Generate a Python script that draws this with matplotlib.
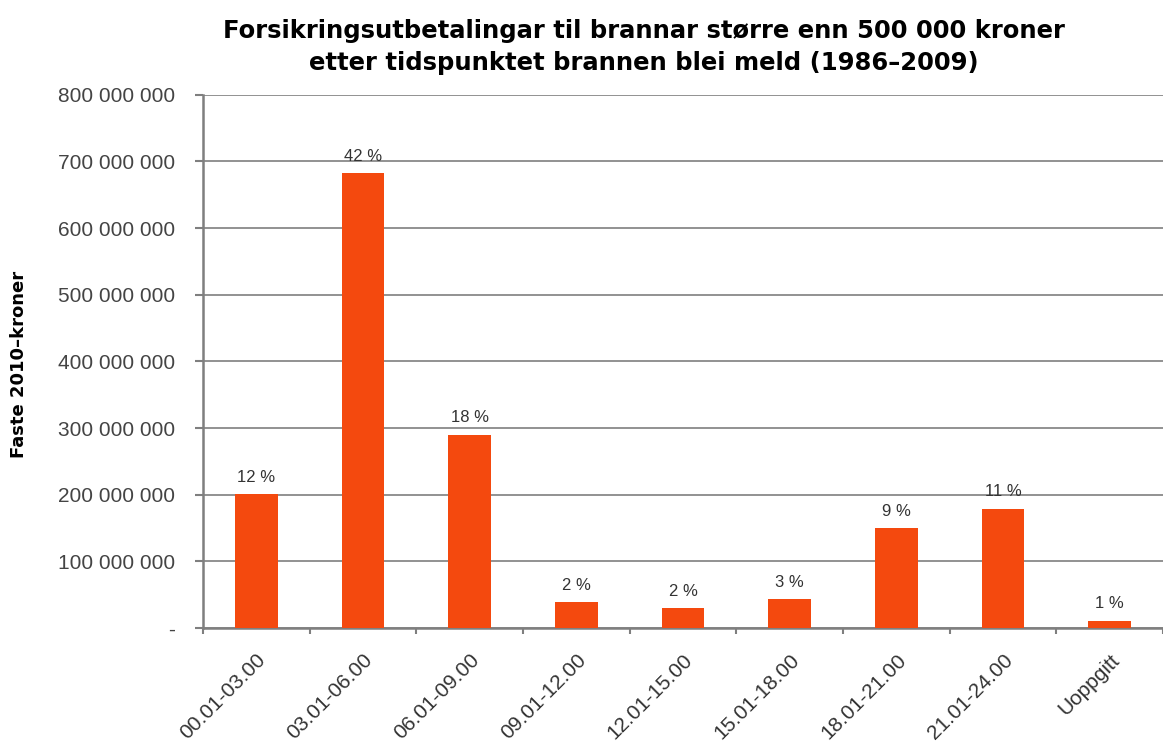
import matplotlib
matplotlib.use('Agg')
import matplotlib.pyplot as plt
import numpy as np
from matplotlib.ticker import FuncFormatter

categories = ['00.01-03.00', '03.01-06.00', '06.01-09.00', '09.01-12.00', '12.01-15.00',
              '15.01-18.00', '18.01-21.00', '21.01-24.00', 'Uoppgitt']
values = [201e6, 682e6, 290e6, 39e6, 30e6, 43e6, 150e6, 179e6, 11e6]
percent_labels = ['12 %', '42 %', '18 %', '2 %', '2 %', '3 %', '9 %', '11 %', '1 %']

bar_color = '#F4490E'
grid_color = '#7f7f7f'

fig = plt.figure(figsize=(11.63, 7.44), dpi=100)
ax = fig.add_axes([0.1745, 0.156, 0.8255, 0.7165])

x = np.arange(len(categories))
ax.bar(x, values, width=0.4, color=bar_color, zorder=3)

for xi, v, lab in zip(x, values, percent_labels):
    ax.text(xi, v + 14e6, lab, ha='center', va='bottom', fontsize=12,
            family='Liberation Sans', color='#333333')

ax.set_xlim(-0.5, len(categories) - 0.5)
ax.set_ylim(0, 800e6)
ax.set_yticks(np.arange(0, 800e6 + 1, 100e6))
ax.yaxis.set_major_formatter(FuncFormatter(
    lambda v, p: '-' if v == 0 else f'{int(v):,}'.replace(',', ' ')))
ax.grid(axis='y', color=grid_color, linewidth=1.2, zorder=0)

ax.set_xticks(x)
ax.set_xticklabels(categories, rotation=45, ha='right', rotation_mode='anchor',
                   fontsize=15, family='Liberation Sans', color='#333333')
ax.set_xticks(np.arange(-0.5, len(categories) + 0.5, 1), minor=True)
ax.tick_params(axis='x', which='major', length=0, pad=16)
ax.tick_params(axis='x', which='minor', length=4.5, width=1.5, color=grid_color, direction='out')
ax.tick_params(axis='y', length=6, width=1.5, color=grid_color, pad=14,
               labelsize=15, labelcolor='#444444')
for lab in ax.get_yticklabels():
    lab.set_family('Liberation Sans')

for side in ['top', 'right']:
    ax.spines[side].set_visible(False)
for side in ['left', 'bottom']:
    ax.spines[side].set_color(grid_color)
    ax.spines[side].set_linewidth(1.8)

fig.text(0.554, 0.937, 'Forsikringsutbetalingar til brannar større enn 500 000 kroner\n'
         'etter tidspunktet brannen blei meld (1986\u20132009)',
         ha='center', va='center', fontsize=17.5, fontweight='bold', linespacing=1.45)
fig.text(0.016, 0.51, 'Faste 2010\u2013kroner', rotation=90, ha='center', va='center',
         fontsize=13, fontweight='bold')

fig.savefig('out.png', dpi=100)
